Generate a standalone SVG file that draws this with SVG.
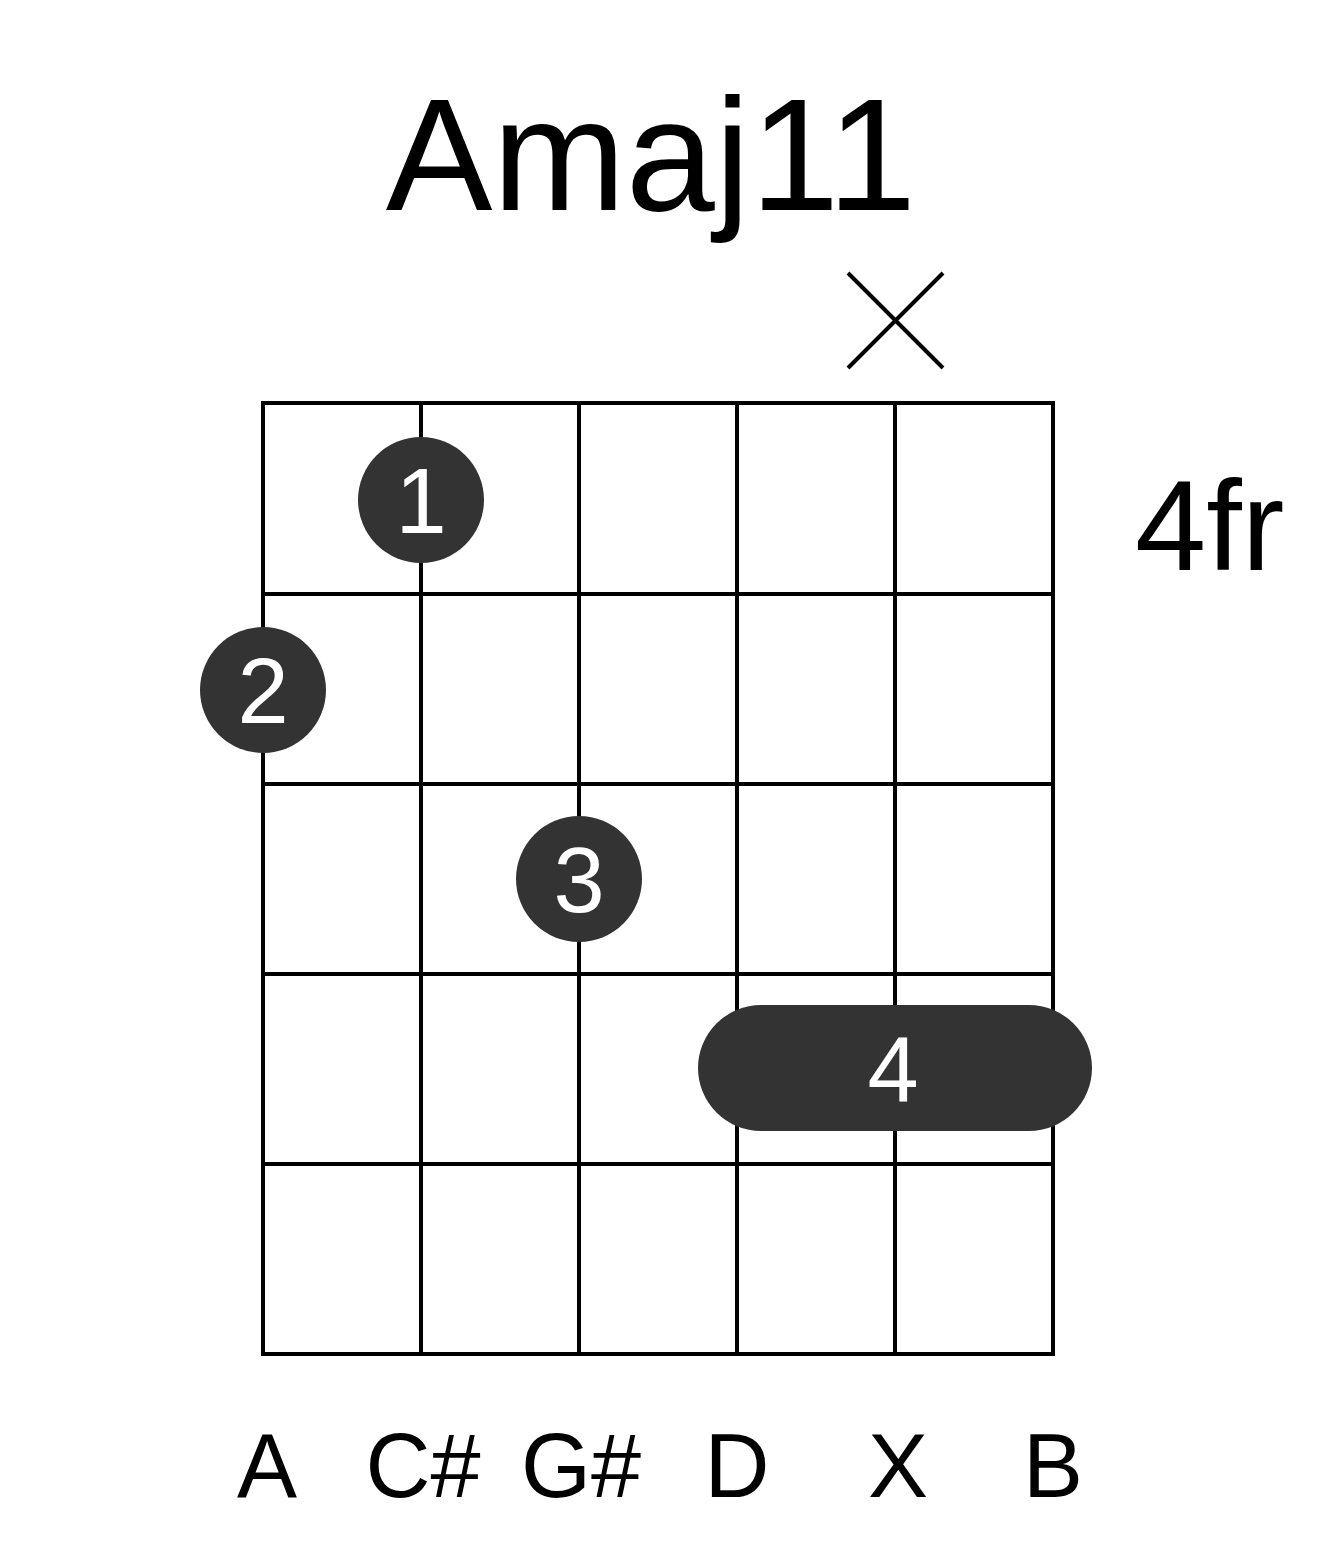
<svg xmlns="http://www.w3.org/2000/svg" width="1317" height="1551" viewBox="0 0 1317 1551">
<style>
.g{stroke:#000;stroke-width:4;fill:none}
.d{fill:#333}
.t{font-family:"Liberation Sans",Arial,sans-serif;text-anchor:middle}
.w{fill:#fff;font-size:92px}
.b{fill:#000;font-size:90px}
</style>
<rect width="1317" height="1551" fill="#fff"/>
<text class="t" x="651" y="210" font-size="160">Amaj11</text>
<text x="1135" y="570" font-family="Liberation Sans,Arial,sans-serif" font-size="128">4fr</text>
<g id="mute"><path class="g" d="M848 273L943 368M943 273L848 368"/></g>
<g id="grid" class="g">
<rect x="263" y="403" width="790" height="951"/>
<path d="M421 403V1354M579 403V1354M737 403V1354M895 403V1354M263 594H1053M263 784H1053M263 974H1053M263 1164H1053"/>
</g>
<g id="f1"><circle class="d" cx="421" cy="500" r="63"/><text class="t w" x="421" y="533">1</text></g>
<g id="f2"><circle class="d" cx="263" cy="690" r="63"/><text class="t w" x="263" y="723">2</text></g>
<g id="f3"><circle class="d" cx="579" cy="879" r="63"/><text class="t w" x="579" y="912">3</text></g>
<g id="f4"><rect class="d" x="698" y="1005" width="394" height="126" rx="63"/><text class="t w" x="893" y="1101">4</text></g>
<g id="labels">
<text class="t b" x="267" y="1497">A</text>
<text class="t b" x="423" y="1497">C#</text>
<text class="t b" x="581" y="1497">G#</text>
<text class="t b" x="737" y="1497">D</text>
<text class="t b" x="898" y="1497">X</text>
<text class="t b" x="1053" y="1497">B</text>
</g>
</svg>
